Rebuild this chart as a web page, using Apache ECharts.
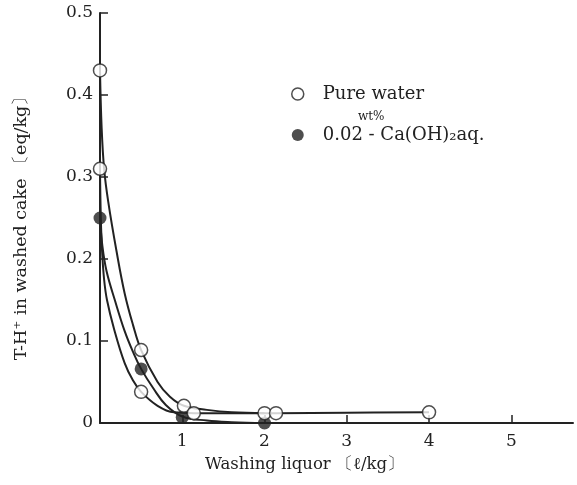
<!DOCTYPE html>
<html>
<head>
<meta charset="utf-8">
<title>T-H+ in washed cake</title>
<script src="https://cdn.jsdelivr.net/npm/echarts@6/dist/echarts.min.js"></script>
<style>
    html, body { margin: 0; padding: 0; background: #fff; }
    #main { width: 577px; height: 485px; }
</style>
</head>
<body>
<div id="main"></div>
<script>
// measured points (x: washing liquor l/kg, y: eq/kg)
var pureUpperPts = [[0, 0.43], [0.5, 0.089], [1.02, 0.021], [2.0, 0.012]];
var pureLowerPts = [[0, 0.31], [0.5, 0.038], [1.14, 0.012], [2.14, 0.012], [4.0, 0.013]];
var caPts = [[0, 0.25], [0.5, 0.066], [1.0, 0.007], [2.0, 0.0]];

// drawn curves, read along the lines of the figure
var pureUpperCurve = [[0, 0.43], [0.02, 0.36], [0.05, 0.31], [0.1, 0.27], [0.2, 0.21], [0.3, 0.158],
    [0.4, 0.12], [0.5, 0.089], [0.7, 0.05], [0.85, 0.032], [1.02, 0.021], [1.3, 0.016], [1.6, 0.013], [2.0, 0.012]];
var pureLowerCurve = [[0, 0.31], [0.01, 0.25], [0.025, 0.21], [0.05, 0.175], [0.085, 0.15], [0.17, 0.115],
    [0.3, 0.073], [0.4, 0.052], [0.5, 0.038], [0.7, 0.021], [0.9, 0.013], [1.14, 0.012], [1.6, 0.012],
    [2.14, 0.012], [3.0, 0.0125], [4.0, 0.013]];
var caCurve = [[0, 0.25], [0.03, 0.215], [0.08, 0.185], [0.18, 0.15], [0.3, 0.112], [0.4, 0.087],
    [0.5, 0.066], [0.65, 0.042], [0.8, 0.022], [1.0, 0.008], [1.3, 0.003], [1.6, 0.001], [2.0, 0.0]];

var xTicks = [1, 2, 3, 4, 5];
var yTicks = [0, 0.1, 0.2, 0.3, 0.4, 0.5];

var FONT = 'DejaVu Serif';
var INK = '#222';

var myChart = echarts.init(document.getElementById('main'));

function curveSeries(name, data) {
    return {
        name: name,
        type: 'line',
        data: data,
        smooth: 0.4,
        showSymbol: false,
        silent: true,
        lineStyle: { color: INK, width: 2 },
        z: 2
    };
}

var option = {
    animation: false,
    grid: { left: 100, right: 4, top: 13, bottom: 62 },
    legend: {
        orient: 'vertical',
        left: 286,
        top: 80,
        itemGap: 23,
        itemWidth: 40,
        itemHeight: 12,
        icon: 'circle',
        selectedMode: false,
        textStyle: { fontFamily: FONT, fontSize: 18, color: INK },
        data: [
            { name: 'Pure water', itemStyle: { color: '#fff', borderColor: INK, borderWidth: 1.5 } },
            { name: '0.02 - Ca(OH)₂aq.', itemStyle: { color: INK, borderWidth: 0 } }
        ]
    },
    graphic: [{
        type: 'text',
        left: 358,
        top: 111,
        style: { text: 'wt%', font: '12px ' + FONT, fill: INK }
    }],
    xAxis: {
        type: 'value',
        min: 0,
        max: 5.75,
        interval: 1,
        name: 'Washing liquor 〔ℓ/kg〕',
        nameLocation: 'middle',
        nameGap: 33,
        nameTextStyle: { fontFamily: FONT, fontSize: 16.5, color: INK, padding: [0, 64, 0, 0] },
        axisLine: { lineStyle: { color: INK, width: 2 } },
        axisTick: { inside: true, length: 8, customValues: xTicks, lineStyle: { color: INK, width: 1.5 } },
        axisLabel: { customValues: xTicks, margin: 10, fontFamily: FONT, fontSize: 17, color: INK },
        splitLine: { show: false }
    },
    yAxis: {
        type: 'value',
        min: 0,
        max: 0.5,
        interval: 0.1,
        name: 'T-H⁺ in washed cake 〔eq/kg〕',
        nameLocation: 'middle',
        nameGap: 70,
        nameRotate: 90,
        nameTextStyle: { fontFamily: FONT, fontSize: 17.5, color: INK, padding: [0, 12, 0, 0] },
        axisLine: { show: true, lineStyle: { color: INK, width: 2 } },
        axisTick: { show: true, inside: true, length: 8, customValues: yTicks.slice(1), lineStyle: { color: INK, width: 1.5 } },
        axisLabel: {
            customValues: yTicks,
            margin: 7,
            fontFamily: FONT,
            fontSize: 17,
            color: INK,
            formatter: function (v) { return v === 0 ? '0' : v.toFixed(1); }
        },
        splitLine: { show: false }
    },
    series: [
        curveSeries('upper curve', pureUpperCurve),
        curveSeries('lower curve', pureLowerCurve),
        curveSeries('ca curve', caCurve),
        {
            name: 'Pure water',
            type: 'scatter',
            data: pureUpperPts.concat(pureLowerPts),
            symbol: 'circle',
            symbolSize: 13,
            itemStyle: { color: '#fff', borderColor: INK, borderWidth: 1.5 },
            clip: false,
            z: 5
        },
        {
            name: '0.02 - Ca(OH)₂aq.',
            type: 'scatter',
            data: caPts,
            symbol: 'circle',
            symbolSize: 13,
            itemStyle: { color: INK },
            clip: false,
            z: 4
        }
    ]
};

myChart.setOption(option);
</script>
</body>
</html>
